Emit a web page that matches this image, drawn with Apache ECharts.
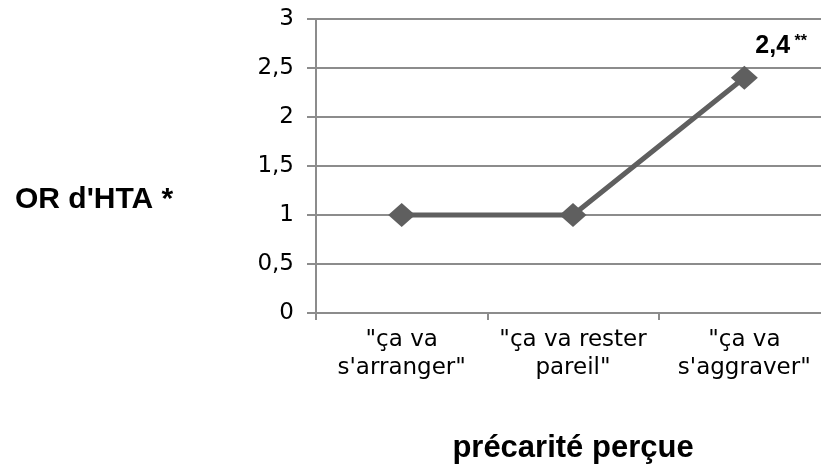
<!DOCTYPE html>
<html><head><meta charset="utf-8">
<script src="https://cdn.jsdelivr.net/npm/echarts@6/dist/echarts.min.js"></script>
<style>html,body{margin:0;padding:0;background:#fff}#c{width:821px;height:472px}</style>
</head><body><div id="c"></div>
<script>
const categories = ['"ça va\ns\'arranger"', '"ça va rester\npareil"', '"ça va\ns\'aggraver"'];
const values = [1, 1, 2.4];
const pointLabels = ['', '', '{v|2,4}{s| **}'];
const yTicks = { min: 0, max: 3, interval: 0.5 };
const yName = "OR d'HTA *";
const xName = 'précarité perçue';

const REG = 'DejaVu Sans, Liberation Sans, sans-serif';
const BOLD = 'Liberation Sans, Arial, sans-serif';

const chart = echarts.init(document.getElementById('c'));
chart.setOption({
  animation: false,
  textStyle: { fontFamily: REG },
  grid: { left: 316, right: -9, top: 19, bottom: 159, outerBoundsMode: 'none', containLabel: false },
  graphic: [{
    type: 'text', x: 15, y: 200,
    style: { text: yName, font: 'bold 30px ' + BOLD, fill: '#000', textVerticalAlign: 'middle' }
  }],
  xAxis: {
    type: 'category', data: categories, boundaryGap: true,
    name: xName, nameLocation: 'middle', nameGap: 120,
    nameTextStyle: { fontSize: 31, fontWeight: 'bold', color: '#000', fontFamily: BOLD },
    axisLine: { lineStyle: { color: '#8c8c8c', width: 2 } },
    axisTick: { show: true, length: 7, lineStyle: { color: '#8c8c8c', width: 2 } },
    axisLabel: { fontSize: 23, color: '#000', lineHeight: 28, margin: 13, interval: 0, fontFamily: REG }
  },
  yAxis: {
    type: 'value', min: yTicks.min, max: yTicks.max, interval: yTicks.interval,
    axisLine: { show: true, lineStyle: { color: '#8c8c8c', width: 2 } },
    axisTick: { show: true, length: 9, lineStyle: { color: '#8c8c8c', width: 2 } },
    splitLine: { lineStyle: { color: '#8c8c8c', width: 2 } },
    axisLabel: { fontSize: 23, color: '#000', margin: 22, fontFamily: REG,
      formatter: v => String(v).replace('.', ',') }
  },
  series: [{
    type: 'line', data: values,
    symbol: 'diamond', symbolSize: [27, 24],
    lineStyle: { color: '#5f5f5f', width: 5 },
    itemStyle: { color: '#5f5f5f' },
    label: {
      show: true, position: 'top', align: 'left', offset: [11, -2],
      formatter: p => pointLabels[p.dataIndex],
      rich: {
        v: { fontSize: 25, fontWeight: 'bold', color: '#000', fontFamily: BOLD },
        s: { fontSize: 16, fontWeight: 'bold', color: '#000', fontFamily: BOLD, verticalAlign: 'top', padding: [0, 0, 8, 0] }
      }
    }
  }]
});
</script></body></html>
